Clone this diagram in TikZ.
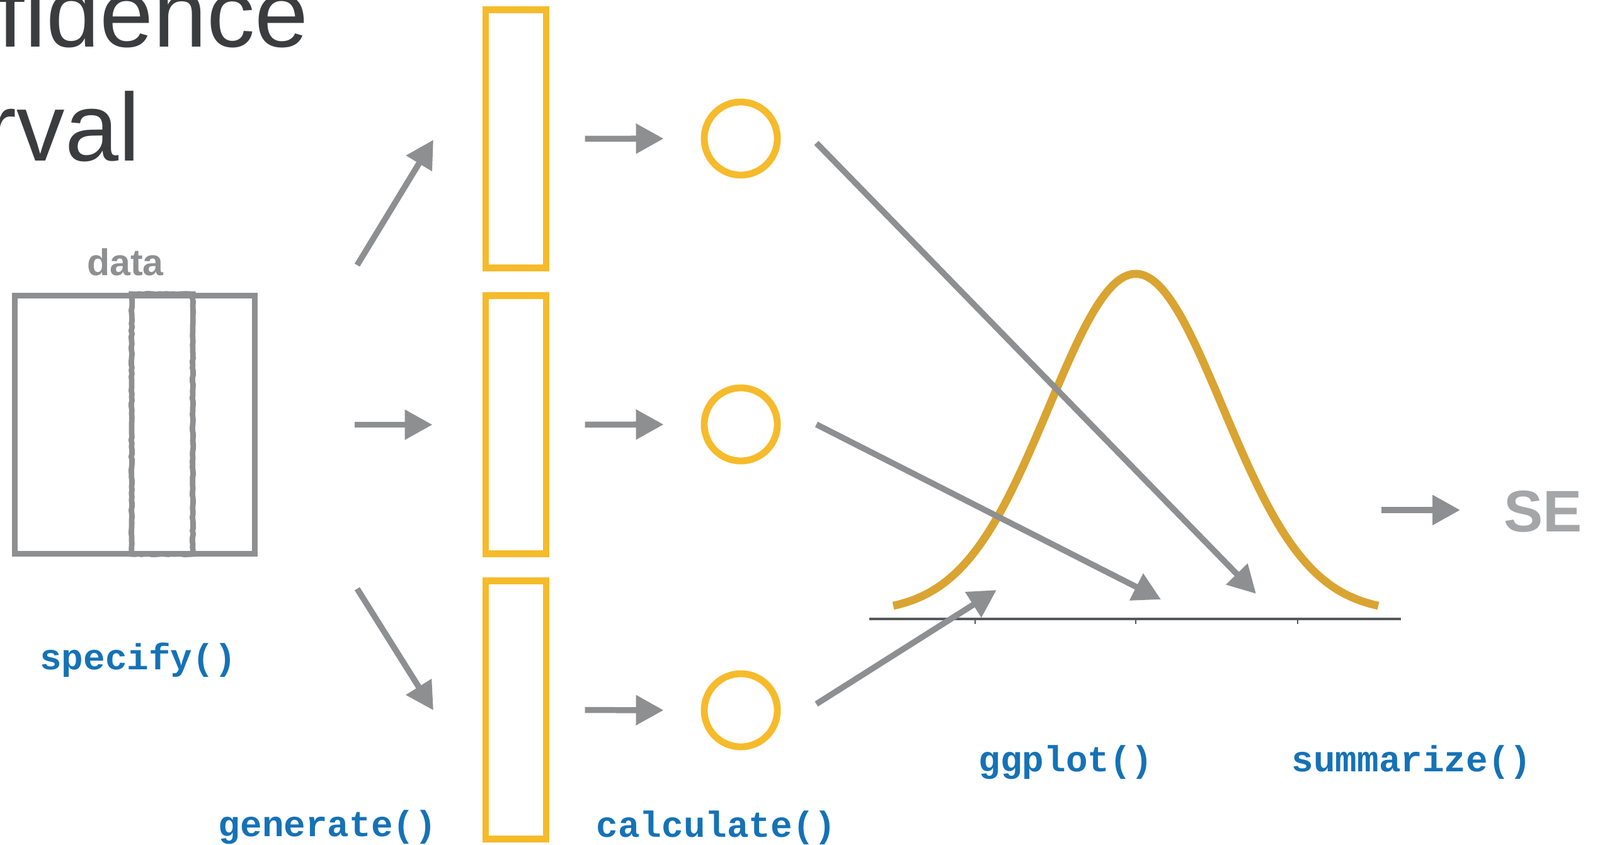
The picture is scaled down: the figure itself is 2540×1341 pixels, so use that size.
\documentclass[tikz,border=0pt]{standalone}
\usepackage{fontspec}
\setmainfont{Liberation Sans}
\newfontfamily\codefont{Liberation Mono}
\usepackage{xcolor}
\usetikzlibrary{arrows.meta}
\usetikzlibrary{decorations.pathmorphing}

\definecolor{titlegray}{HTML}{3B3C3E}
\definecolor{arrowgray}{HTML}{8E8F91}
\definecolor{segray}{HTML}{A4A6A7}
\definecolor{axisgray}{HTML}{55575A}
\definecolor{boxyellow}{HTML}{F6BB2B}
\definecolor{curvegold}{HTML}{D9A431}
\definecolor{codeblue}{HTML}{1572B6}

\tikzset{
  flow/.style={draw=arrowgray, line width=2.7pt, -{Triangle[length=12.5pt,width=13pt]}},
  sample/.style={draw=boxyellow, line width=3.1pt, minimum width=0.96cm, minimum height=4.09cm, inner sep=0pt},
  stat/.style={circle, draw=boxyellow, line width=3.1pt, minimum size=1.16cm, inner sep=0pt},
  verb/.style={text=codeblue, font=\codefont\bfseries\fontsize{16.4}{16.4}\selectfont, anchor=base, inner sep=0pt},
}

\begin{document}
\begin{tikzpicture}[x=0.01cm, y=-0.01cm]
        \useasboundingbox (0,0) rectangle (2540,1341);
        \clip (0,0) rectangle (2540,1341);
        % title, cut at the left edge
        \node[anchor=base west, inner sep=0pt, text=titlegray, font=\fontsize{43.5}{43.5}\selectfont] (title1) at (-4,74) {fidence};
        \node[anchor=base west, inner sep=0pt, text=titlegray, font=\fontsize{43.5}{43.5}\selectfont] (title2) at (-25,255) {rval};
        % data
        \node[draw=arrowgray, line width=2.6pt, minimum width=3.8cm, minimum height=4.09cm, inner sep=0pt] (data) at (214,674.5) {};
        \draw[arrowgray, line width=2.5pt, decorate, decoration={random steps, segment length=1.5pt, amplitude=0.2pt}] (209,467) rectangle (306,880);
        \node[anchor=base, inner sep=0pt, text=arrowgray, font=\bfseries\fontsize{16.8}{16.8}\selectfont] (datalabel) at (199,437) {data};
        % samples and statistics
        \node[sample] (r1) at (819,220.5) {};
        \node[sample] (r2) at (819,674.5) {};
        \node[sample] (r3) at (819,1127.5) {};
        \node[stat] (c1) at (1176,220) {};
        \node[stat] (c2) at (1176,674) {};
        \node[stat] (c3) at (1176,1128) {};
        \coordinate (s1) at (567,421);
        \coordinate (e1) at (688,222);
        \coordinate (s3) at (567,935);
        \coordinate (e3) at (688,1128);
        \draw[flow] (s1) -- (e1);
        \draw[flow, shorten <=1.54cm, shorten >=0.79cm] (data.east) -- (r2.west);
        \draw[flow] (s3) -- (e3);
        \foreach \i in {1,2,3}
            \draw[flow, shorten <=0.56cm, shorten >=0.59cm] (r\i.east) -- (c\i.west);
        % null distribution
        \draw[axisgray, line width=0.9pt] (1380,983) coordinate (axl) -- (2224,983) coordinate (axr);
        \foreach \t in {1548,1803,2060}
            \draw[axisgray, line width=0.5pt] (\t,983) -- (\t,991);
        \draw[curvegold, line width=3.6pt] plot[domain=1418:2188, samples=120, smooth] (\x, {973-538*exp(-0.5*((\x-1803)/138)^2)});
        \coordinate (p1) at (1296,227);
        \coordinate (q1) at (1994,943);
        \coordinate (p2) at (1296,674);
        \coordinate (q2) at (1843,952);
        \coordinate (p3) at (1296,1118);
        \coordinate (q3) at (1582,937);
        \draw[flow] (p1) -- (q1);
        \draw[flow] (p2) -- (q2);
        \draw[flow] (p3) -- (q3);
        % standard error
        \node[anchor=base west, inner sep=0pt, text=segray, font=\bfseries\fontsize{26.5}{26.5}\selectfont] (se) at (2387,844) {SE};
        \coordinate (se0) at (2193,810);
        \draw[flow] (se0) -- (2318,810);
        % verbs
        \node[verb] (specify) at (219,1063) {specify()};
        \node[verb] (generate) at (520,1328) {generate()};
        \node[verb] (calculate) at (1137,1329) {calculate()};
        \node[verb] (ggplot) at (1692,1225) {ggplot()};
        \node[verb] (summarize) at (2241,1225) {summarize()};
    \end{tikzpicture}
\end{document}
